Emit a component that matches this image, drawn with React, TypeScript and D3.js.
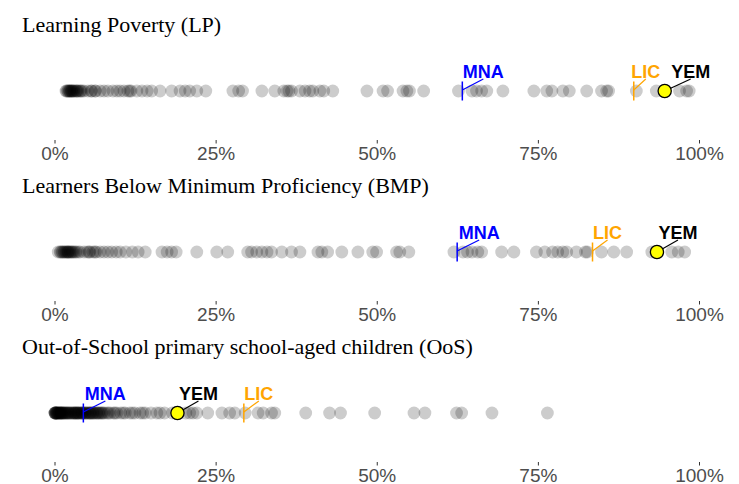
import * as d3 from 'd3';

// Country values per indicator, in percent
const LP_VALUES = [
  1.7, 1.8, 2.0, 2.0, 2.2, 2.3, 2.3, 2.5, 2.6, 2.6, 2.8, 2.9, 3.0, 3.3, 3.3, 3.5, 3.6, 3.9, 4.0,
  4.2, 4.5, 5.1, 5.6, 5.7, 6.2, 6.3, 7.0, 7.6, 8.2, 9.0,
  9.6, 10.1, 10.7, 11.3, 11.6, 11.8, 12.7, 13.5, 14.3, 15.0, 16.3, 18.1, 19.4, 20.2, 20.9, 22.0, 23.4,
  27.6, 28.5, 29.1, 32.1, 34.1, 35.5, 36.0, 36.3, 36.7, 38.0, 38.8, 39.5, 40.0, 41.1, 41.7, 43.1,
  48.4, 50.9, 51.6, 54.0, 54.6, 55.0, 57.2, 62.6, 64.7, 65.4, 66.2, 67.0, 69.5,
  74.3, 76.3, 77.1, 78.8, 79.8, 82.5, 84.8, 85.6, 85.9, 90.2, 93.3, 96.9, 98.0, 98.4,
];

const BMP_VALUES = [
  0.5, 0.8, 0.9, 1.1, 1.2, 1.4, 1.5, 1.7, 1.8, 2.0, 2.0, 2.1, 2.3, 2.4, 2.6, 2.7, 2.9, 3.1, 3.3,
  3.6, 3.9, 4.5, 5.0, 5.3, 5.4, 5.9, 6.2, 6.4, 7.0,
  7.6, 8.2, 8.8, 9.5, 10.1, 11.0, 12.0, 12.9, 14.0, 16.6, 17.4, 18.1, 18.8, 22.0, 25.1, 26.8,
  29.9, 30.5, 31.3, 32.1, 32.9, 33.6, 35.2, 36.7, 38.0, 40.8, 41.4, 42.3, 44.5, 47.0, 49.3, 49.9,
  53.0, 53.5, 54.9, 61.9, 63.3, 64.0, 64.7, 65.6, 66.2, 69.3, 71.2, 74.7, 76.0, 77.2, 78.0,
  78.8, 79.4, 80.9, 82.3, 82.6, 84.8, 86.7, 88.7, 92.6, 95.7, 96.7, 97.7,
];

const OOS_VALUES = [
  0.0, 0.0, 0.0, 0.0, 0.1, 0.1, 0.2, 0.2, 0.3, 0.3, 0.4, 0.5, 0.5, 0.6, 0.7, 0.8, 0.8, 0.9, 1.0,
  1.0, 1.1, 1.2, 1.3, 1.3, 1.5, 1.6, 1.6, 1.8, 1.9, 2.0, 2.1, 2.2, 2.4, 2.5, 2.6, 2.8, 2.9, 3.0,
  3.1, 3.2, 3.3, 3.4, 3.5, 3.6, 3.7, 3.8, 4.0, 4.1, 4.2, 4.3, 4.4, 4.6, 4.7, 4.8, 5.0, 5.1, 5.3,
  5.4, 5.5, 5.6, 5.8, 5.9, 6.0, 6.2, 6.4, 6.5, 6.7, 6.8, 7.0, 7.2, 7.3, 7.5, 7.7, 8.1, 8.3, 8.6,
  9.1, 9.3, 9.6, 10.2, 10.6, 10.9, 11.6, 12.0, 12.4, 13.2,
  13.6, 14.0, 14.9, 15.8, 16.3, 17.0, 18.2, 20.3, 20.9, 21.4, 22.0, 23.7, 25.9, 27.1, 27.9, 29.5,
  31.5, 32.3, 33.6, 34.1, 38.9, 42.6, 44.3, 49.6, 55.7, 57.4, 62.3, 63.1, 67.8, 76.4,
];

const TITLES = [
  'Learning Poverty (LP)',
  'Learners Below Minimum Proficiency (BMP)',
  'Out-of-School primary school-aged children (OoS)',
];

// Highlighted values: [MNA, LIC, YEM] per panel
const MNA = [63.2, 62.4, 4.4];
const LIC = [89.8, 83.4, 29.3];
const YEM = [94.6, 93.4, 19.0];

// horizontal label nudge (px) for MNA, LIC, YEM per panel
const NUDGE = [
  [21, 12, 26],
  [22, 15, 21],
  [22, 15, 21],
];

const TICKS = [0, 25, 50, 75, 100];

const W = 739;
const H = 484;
const PANEL_H = 161;

export default function App() {
  const x = d3.scaleLinear().domain([0, 100]).range([55, 699.5]);
  const fmt = (d: number) => `${d}%`;
  const series = [LP_VALUES, BMP_VALUES, OOS_VALUES];

  return (
    <svg
      width={W}
      height={H}
      style={{ position: 'absolute', left: 0, top: 0, background: '#fff' }}
    >
      {series.map((vals, i) => {
        const top = i * PANEL_H;
        const y0 = top + 91;
        const labelY = top + 77.5;
        const marks = [
          { name: 'MNA', v: MNA[i], color: '#0000FF', dx: NUDGE[i][0] },
          { name: 'LIC', v: LIC[i], color: '#FFA500', dx: NUDGE[i][1] },
        ];
        const yemX = x(YEM[i]);
        return (
          <g key={i}>
            <text
              x={22}
              y={top + 31.5}
              fontFamily="'Liberation Serif', 'Times New Roman', serif"
              fontSize={22}
              fill="#000"
            >
              {TITLES[i]}
            </text>

            {vals.map((v, j) => (
              <circle key={j} cx={x(v)} cy={y0} r={6.4} fill="#000" fillOpacity={0.2} />
            ))}

            {marks.map((m) => (
              <g key={m.name}>
                <line
                  x1={x(m.v)}
                  x2={x(m.v)}
                  y1={y0 - 9.5}
                  y2={y0 + 9.5}
                  stroke={m.color}
                  strokeWidth={1.5}
                />
                <line
                  x1={x(m.v)}
                  y1={y0 - 1}
                  x2={x(m.v) + m.dx}
                  y2={labelY + 1.5}
                  stroke={m.color}
                  strokeWidth={1.2}
                />
              </g>
            ))}

            <line
              x1={yemX}
              y1={y0}
              x2={yemX + NUDGE[i][2]}
              y2={labelY + 1.5}
              stroke="#000"
              strokeWidth={1.2}
            />
            <circle cx={yemX} cy={y0} r={6.6} fill="#FFFF00" stroke="#000" strokeWidth={1.3} />

            {[...marks, { name: 'YEM', v: YEM[i], color: '#000', dx: NUDGE[i][2] }].map((m) => (
              <text
                key={`lab-${m.name}`}
                x={x(m.v) + m.dx}
                y={labelY}
                textAnchor="middle"
                fontFamily="'Liberation Sans', Arial, sans-serif"
                fontWeight="bold"
                fontSize={18}
                fill={m.color}
              >
                {m.name}
              </text>
            ))}

            {TICKS.map((t) => (
              <g key={t}>
                <line
                  x1={x(t)}
                  x2={x(t)}
                  y1={top + 140}
                  y2={top + 143.5}
                  stroke="#333"
                  strokeWidth={1}
                />
                <text
                  x={x(t)}
                  y={top + 159.5}
                  textAnchor="middle"
                  fontFamily="'Liberation Sans', Arial, sans-serif"
                  fontSize={19}
                  fill="#4D4D4D"
                >
                  {fmt(t)}
                </text>
              </g>
            ))}
          </g>
        );
      })}
    </svg>
  );
}
